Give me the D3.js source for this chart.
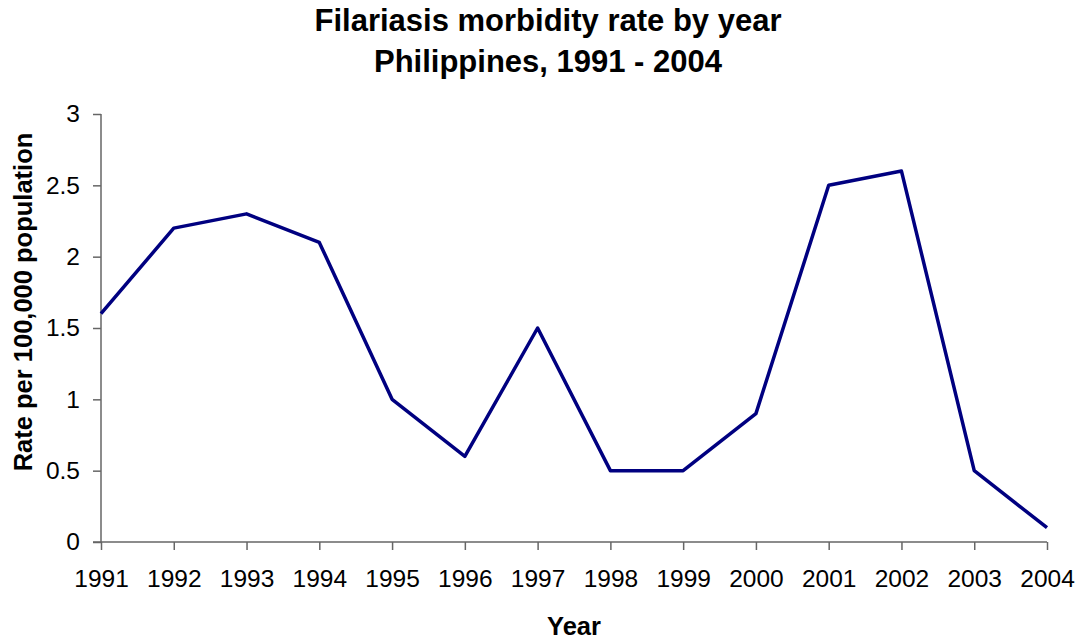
<!DOCTYPE html>
<html>
<head>
<meta charset="utf-8">
<script src="https://cdn.jsdelivr.net/npm/d3@7"></script>
<style>
  body { margin: 0; background: #fff; }
  svg { display: block; font-family: "Liberation Sans", Arial, sans-serif; }
</style>
</head>
<body>
<svg id="chart" width="1081" height="642"></svg>
<script>
const years = [1991, 1992, 1993, 1994, 1995, 1996, 1997, 1998, 1999, 2000, 2001, 2002, 2003, 2004];
const rates = [1.6, 2.2, 2.3, 2.1, 1.0, 0.6, 1.5, 0.5, 0.5, 0.9, 2.5, 2.6, 0.5, 0.1];
const yTicks = [0, 0.5, 1, 1.5, 2, 2.5, 3];
const titleLines = ["Filariasis morbidity rate by year", "Philippines, 1991 - 2004"];

const svg = d3.select("#chart");
const margin = { left: 101, right: 34, top: 114, bottom: 100 };
const W = 1081, H = 642;

const x = d3.scalePoint().domain(years).range([margin.left, W - margin.right]);
const y = d3.scaleLinear().domain([0, 3]).range([H - margin.bottom, margin.top]);

// title
svg.append("g").selectAll("text")
  .data(titleLines)
  .join("text")
  .attr("x", 548)
  .attr("y", (d, i) => 31 + i * 41)
  .attr("text-anchor", "middle")
  .attr("font-weight", "bold")
  .attr("font-size", 31)
  .text(d => d);

// axes
const axisColor = "#666";
const gy = svg.append("g")
  .attr("transform", `translate(${margin.left},0)`)
  .call(d3.axisLeft(y).tickValues(yTicks).tickSize(8).tickPadding(13).tickFormat(d3.format("")));
const gx = svg.append("g")
  .attr("transform", `translate(0,${y(0)})`)
  .call(d3.axisBottom(x).tickSize(8).tickPadding(20).tickFormat(d3.format("d")));

[gx, gy].forEach(g => {
  g.select(".domain").attr("stroke", axisColor).attr("stroke-width", 1.5);
  g.selectAll(".tick line").attr("stroke", axisColor).attr("stroke-width", 1.5);
  g.selectAll(".tick text").attr("fill", "#000").attr("font-size", 24.5)
    .attr("font-family", "'Liberation Sans', Arial, sans-serif");
});
// straight axis lines, no outer ticks
gy.select(".domain").attr("d", `M0,${y(3)}V${y(0)}`);
gx.select(".domain").attr("d", `M${margin.left - 8},0H${W - margin.right}`);

// line
svg.append("path")
  .datum(years.map((yr, i) => ({ yr, v: rates[i] })))
  .attr("fill", "none")
  .attr("stroke", "#000080")
  .attr("stroke-width", 3.5)
  .attr("stroke-linejoin", "round")
  .attr("d", d3.line().x(d => x(d.yr)).y(d => y(d.v)));

// axis titles
svg.append("text")
  .attr("x", 574)
  .attr("y", 635)
  .attr("text-anchor", "middle")
  .attr("font-weight", "bold")
  .attr("font-size", 25.5)
  .text("Year");

svg.append("text")
  .attr("transform", `translate(32,302) rotate(-90)`)
  .attr("text-anchor", "middle")
  .attr("font-weight", "bold")
  .attr("font-size", 25.5)
  .text("Rate per 100,000 population");
</script>
</body>
</html>
